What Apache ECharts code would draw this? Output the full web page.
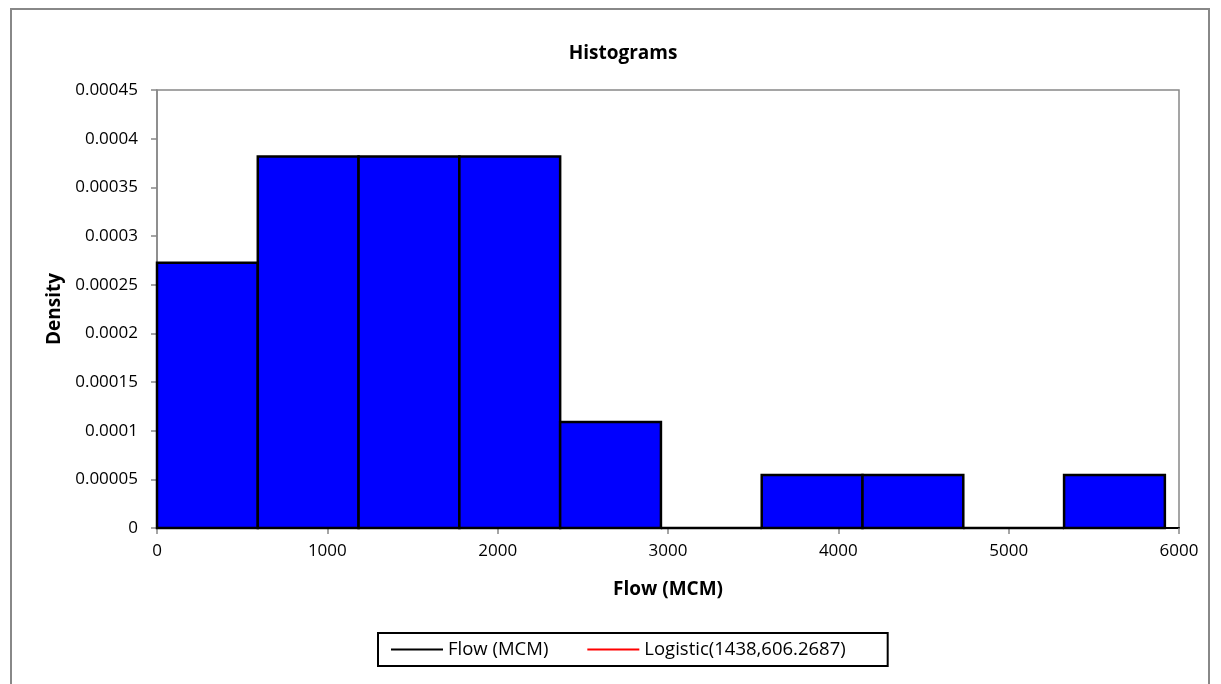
<!DOCTYPE html>
<html>
<head>
<meta charset="utf-8">
<script src="https://cdn.jsdelivr.net/npm/echarts@6/dist/echarts.min.js"></script>
<style>
html,body{margin:0;padding:0;background:#fff;}
#chart{width:1221px;height:684px;}
</style>
</head>
<body>
<div id="chart"></div>
<script>
// Histogram bins (Flow, MCM) and densities
const binStart = [0, 591.7, 1183.4, 1775.1, 2366.8, 2958.5, 3550.2, 4141.9, 4733.6, 5325.3];
const binEnd   = [591.7, 1183.4, 1775.1, 2366.8, 2958.5, 3550.2, 4141.9, 4733.6, 5325.3, 5917];
const density  = [0.0002726, 0.0003816, 0.0003816, 0.0003816, 0.000109, 0, 0.0000545, 0.0000545, 0, 0.0000545];
const legendNames = ['Flow (MCM)', 'Logistic(1438,606.2687)'];
const yTicks = ['0','0.00005','0.0001','0.00015','0.0002','0.00025','0.0003','0.00035','0.0004','0.00045'];
const xTicks = ['0','1000','2000','3000','4000','5000','6000'];

const FONT = 'Open Sans';
const histData = binStart.map((s, i) => [s, binEnd[i], density[i]]);

const chart = echarts.init(document.getElementById('chart'));
chart.setOption({
  animation: false,
  backgroundColor: '#fff',
  textStyle: { fontFamily: FONT },
  title: {
    text: 'Histograms',
    left: 618, top: 39, textAlign: 'center',
    textStyle: { fontFamily: FONT, fontSize: 19, fontWeight: 'bold', color: '#000' }
  },
  graphic: [{
    type: 'rect', silent: true, z: 100,
    shape: { x: 11, y: 9, width: 1198, height: 700 },
    style: { fill: null, stroke: '#888', lineWidth: 2 }
  }],
  grid: { left: 157, right: 42, top: 90, bottom: 156, show: true, borderColor: '#888', borderWidth: 1.5, containLabel: false },
  legend: {
    left: 378, top: 633,
    padding: [7, 42, 7, 13],
    borderColor: '#000', borderWidth: 2,
    itemGap: 39, itemWidth: 52, itemHeight: 2,
    textStyle: { fontFamily: FONT, fontSize: 18.5, color: '#000' },
    data: [
      { name: legendNames[0], icon: 'rect' },
      { name: legendNames[1], icon: 'rect' }
    ]
  },
  xAxis: {
    type: 'value', min: 0, max: 6000, interval: 1000,
    name: 'Flow (MCM)', nameLocation: 'middle', nameGap: 52,
    nameTextStyle: { fontFamily: FONT, fontSize: 19, fontWeight: 'bold', color: '#000' },
    axisLine: { show: true, onZero: false, lineStyle: { color: '#000', width: 2 } },
    axisTick: { show: true, length: 6, lineStyle: { color: '#888', width: 1.5 } },
    axisLabel: {
      fontFamily: FONT, fontSize: 17, color: '#000', margin: 15,
      formatter: (v) => xTicks[Math.round(v / 1000)]
    },
    splitLine: { show: false }
  },
  yAxis: {
    type: 'value', min: 0, max: 0.00045, interval: 0.00005,
    name: 'Density', nameLocation: 'middle', nameGap: 86, nameRotate: 90,
    nameTextStyle: { fontFamily: FONT, fontSize: 19, fontWeight: 'bold', color: '#000' },
    axisLine: { show: true, lineStyle: { color: '#888', width: 1.5 } },
    axisTick: { show: true, length: 6, lineStyle: { color: '#888', width: 1.5 } },
    axisLabel: {
      fontFamily: FONT, fontSize: 17, color: '#000', margin: 19,
      formatter: (v) => yTicks[Math.round(v / 0.00005)]
    },
    splitLine: { show: false }
  },
  series: [
    {
      type: 'custom', name: 'hist', z: 3,
      data: histData,
      encode: { x: [0, 1], y: 2 },
      renderItem: function (params, api) {
        const p0 = api.coord([api.value(0), api.value(2)]);
        const p1 = api.coord([api.value(1), 0]);
        return {
          type: 'rect',
          shape: { x: p0[0], y: p0[1], width: p1[0] - p0[0], height: p1[1] - p0[1] },
          style: { fill: '#0000FF', stroke: '#000', lineWidth: 2.5 }
        };
      }
    },
    {
      type: 'line', name: legendNames[0], data: [], symbol: 'none',
      itemStyle: { color: '#000' }, lineStyle: { color: '#000', width: 2 }
    },
    {
      type: 'line', name: legendNames[1], data: [], symbol: 'none',
      itemStyle: { color: '#FF0000' }, lineStyle: { color: '#FF0000', width: 2 }
    }
  ]
});
</script>
</body>
</html>
